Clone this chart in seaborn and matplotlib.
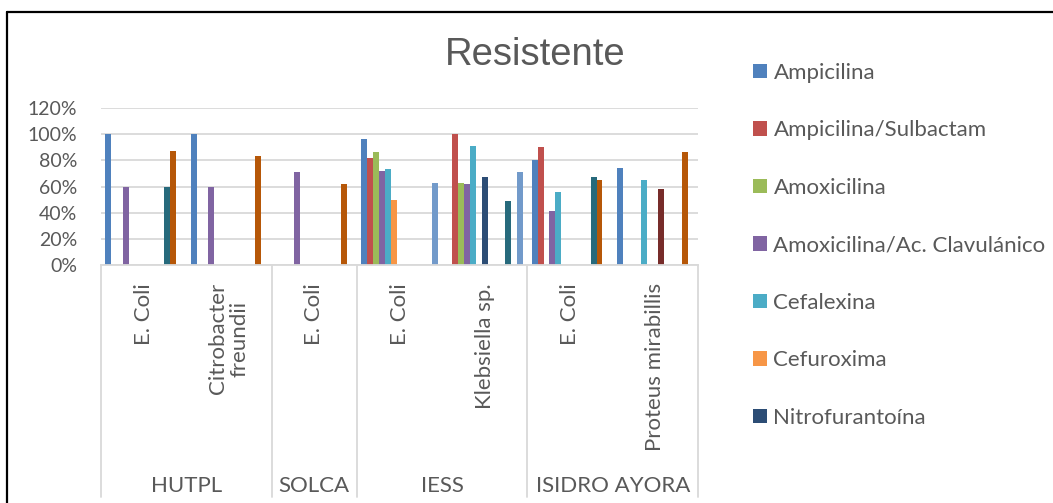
import numpy as np
import pandas as pd
import seaborn as sns
import matplotlib.pyplot as plt
from matplotlib.lines import Line2D
from matplotlib.patches import Patch
import matplotlib.transforms as mtransforms

nan = np.nan

# categorias: (hospital, bacteria)
hospitales = ['HUTPL', 'HUTPL', 'SOLCA', 'IESS', 'IESS', 'ISIDRO AYORA', 'ISIDRO AYORA']
bacterias = ['E. Coli', 'Citrobacter\nfreundii', 'E. Coli', 'E. Coli', 'Klebsiella sp.',
             'E. Coli', 'Proteus mirabillis']

# % resistente por antibiotico (mismo orden que las categorias)
ampicilina = [1.00, 1.00, nan, 0.96, nan, 0.80, 0.74]
ampicilina_sulbactam = [nan, nan, nan, 0.82, 1.00, 0.90, nan]
amoxicilina = [nan, nan, nan, 0.86, 0.63, nan, nan]
amoxicilina_clav = [0.60, 0.60, 0.71, 0.72, 0.62, 0.41, nan]
cefalexina = [nan, nan, nan, 0.735, 0.91, 0.56, 0.65]
cefuroxima = [nan, nan, nan, 0.50, nan, nan, nan]
nitrofurantoina = [nan, nan, nan, nan, 0.67, nan, nan]
serie_8 = [nan, nan, nan, nan, nan, nan, 0.58]
serie_9 = [nan, nan, nan, nan, nan, nan, nan]
serie_10 = [nan, nan, nan, nan, nan, nan, nan]
serie_11 = [0.60, nan, nan, nan, 0.49, 0.67, nan]
serie_12 = [0.87, 0.83, 0.62, nan, nan, 0.65, 0.86]
serie_13 = [nan, nan, nan, 0.63, 0.71, nan, nan]

antibioticos = ['Ampicilina', 'Ampicilina/Sulbactam', 'Amoxicilina',
                'Amoxicilina/Ac. Clavulánico', 'Cefalexina', 'Cefuroxima',
                'Nitrofurantoína', 'Serie 8', 'Serie 9', 'Serie 10',
                'Serie 11', 'Serie 12', 'Serie 13']
valores = [ampicilina, ampicilina_sulbactam, amoxicilina, amoxicilina_clav,
           cefalexina, cefuroxima, nitrofurantoina, serie_8, serie_9, serie_10,
           serie_11, serie_12, serie_13]
colores = ['#4F81BD', '#C0504D', '#9BBB59', '#8064A2', '#4BACC6', '#F79646',
           '#2C4D75', '#772C2A', '#5F7530', '#4D3B62', '#276A7C', '#B65708',
           '#729ACA']
n_legend = 7

claves = [f'{h}|{b}' for h, b in zip(hospitales, bacterias)]
filas = []
for nombre, vals in zip(antibioticos, valores):
    for k, v in zip(claves, vals):
        if not np.isnan(v):
            filas.append({'cat': k, 'antibiotico': nombre, 'valor': v})
df = pd.DataFrame(filas)

sns.set_style('white')
plt.rcParams['font.family'] = ['Lato', 'DejaVu Sans']
gris = '#595959'
fs = 16

fig = plt.figure(figsize=(10.53, 5.03), dpi=100)
ax = fig.add_axes([101 / 1053, 238 / 503, 597 / 1053, 157 / 503])

sns.barplot(data=df, x='cat', y='valor', hue='antibiotico', order=claves,
            hue_order=antibioticos, palette=dict(zip(antibioticos, colores)),
            width=13 / 14.5, saturation=1, errorbar=None, legend=False,
            linewidth=0, ax=ax)

ax.set_xlim(-0.5, len(claves) - 0.5)
ax.set_ylim(0, 1.2)
ax.set_yticks(np.arange(0, 1.21, 0.2))
ax.set_yticklabels([f'{int(round(t * 100))}%' for t in np.arange(0, 1.21, 0.2)],
                   fontsize=14, color=gris)
ax.yaxis.grid(True, color='#D9D9D9', linewidth=1.3)
ax.set_axisbelow(True)
for s in ['left', 'right', 'top']:
    ax.spines[s].set_visible(False)
ax.spines['bottom'].set_color('#D9D9D9')
ax.spines['bottom'].set_linewidth(1.3)
ax.tick_params(axis='y', length=0, pad=17)
ax.tick_params(axis='x', length=0, pad=13)
ax.set_xticks(range(len(claves)))
ax.set_xticklabels(bacterias, rotation=90, va='top', ha='center',
                   fontsize=fs, color=gris, linespacing=1.1)
ax.set_xlabel('')
ax.set_ylabel('')

# eje multinivel: separadores y nombres de hospital
trans = mtransforms.blended_transform_factory(ax.transData, ax.transAxes)
grupos = []
for i, h in enumerate(hospitales):
    if not grupos or grupos[-1][0] != h:
        grupos.append([h, i, i])
    else:
        grupos[-1][2] = i
bordes = [-0.5] + [g[2] + 0.5 for g in grupos]
for b in bordes:
    ax.add_line(Line2D([b, b], [0, -1.48], transform=trans, color='#D9D9D9',
                       linewidth=1.3, clip_on=False))
for h, i0, i1 in grupos:
    ax.text((i0 + i1) / 2, -1.41, h, transform=trans, ha='center', va='center',
            fontsize=fs, color=gris)

fig.text(535 / 1053, 1 - 55 / 503, 'Resistente', ha='center', va='center',
         fontsize=27.5, color=gris, family=['Liberation Sans', 'DejaVu Sans'])

handles = [Patch(facecolor=c, edgecolor='none') for c in colores[:n_legend]]
fig.legend(handles, antibioticos[:n_legend], loc='upper left',
           bbox_to_anchor=(753 / 1053, 1 - 63 / 503), frameon=False,
           fontsize=fs, labelcolor=gris, handlelength=0.62, handleheight=0.62,
           handletextpad=0.3, labelspacing=1.685, borderpad=0, borderaxespad=0)

# borde del grafico (recortado a derecha y abajo)
fig.add_artist(Line2D([7 / 1053, 7 / 1053], [0, 1 - 12 / 503], color='black',
                      linewidth=1.6, transform=fig.transFigure))
fig.add_artist(Line2D([7 / 1053, 1], [1 - 12 / 503, 1 - 12 / 503], color='black',
                      linewidth=1.6, transform=fig.transFigure))

fig.savefig('out.png', dpi=100)
